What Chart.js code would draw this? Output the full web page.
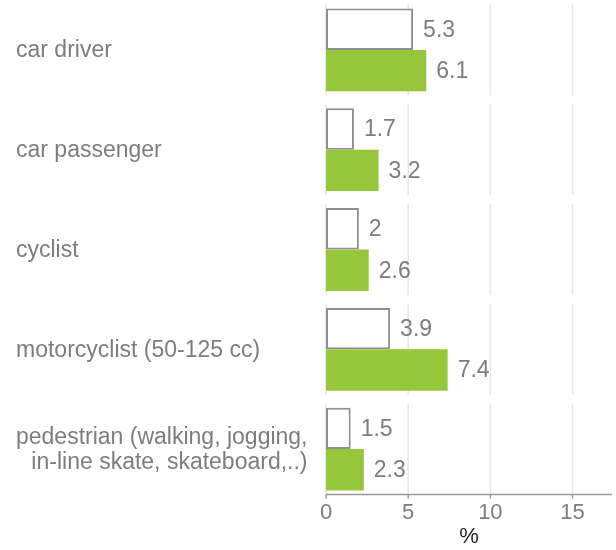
<!DOCTYPE html>
<html>
<head>
<meta charset="utf-8">
<script src="https://cdn.jsdelivr.net/npm/chart.js@4/dist/chart.umd.min.js"></script>
<style>
  html, body { margin: 0; padding: 0; background: #fff; }
  #wrap { width: 616px; height: 550px; }
</style>
</head>
<body>
<div id="wrap"><canvas id="chart"></canvas></div>
<script>
// data
const categories = [
  'car driver',
  'car passenger',
  'cyclist',
  'motorcyclist (50-125 cc)',
  ['pedestrian (walking, jogging,', 'in-line skate, skateboard,..)']
];
const whiteValues = [5.3, 1.7, 2, 3.9, 1.5];
const greenValues = [6.1, 3.2, 2.6, 7.4, 2.3];
const xTicks = [0, 5, 10, 15];

const textGray = '#7d7d7d';
const font = 'Liberation Sans, Arial, sans-serif';
const panelShare = 0.455; // half height of each grey grid panel, in category widths

// grid drawn per category panel, with gaps between them, plus the bottom axis line
const panelGrid = {
  id: 'panelGrid',
  beforeDatasetsDraw(chart) {
    const { ctx, chartArea, scales: { x, y } } = chart;
    const step = y.getPixelForValue(1) - y.getPixelForValue(0);
    ctx.save();
    ctx.strokeStyle = '#e6e6e6';
    ctx.lineWidth = 1.5;
    categories.forEach((c, i) => {
      const cy = y.getPixelForValue(i);
      xTicks.forEach(t => {
        const px = x.getPixelForValue(t);
        ctx.beginPath();
        ctx.moveTo(px, cy - step * panelShare);
        ctx.lineTo(px, cy + step * panelShare);
        ctx.stroke();
      });
    });
    // axis line
    const ay = y.getPixelForValue(categories.length - 1) + step * panelShare;
    ctx.strokeStyle = '#9a9a9a';
    ctx.lineWidth = 1.5;
    ctx.beginPath();
    ctx.moveTo(x.getPixelForValue(0), ay);
    ctx.lineTo(chartArea.right, ay);
    ctx.stroke();
    xTicks.forEach(t => {
      const px = x.getPixelForValue(t);
      ctx.beginPath();
      ctx.moveTo(px, ay);
      ctx.lineTo(px, ay + 4);
      ctx.stroke();
    });
    ctx.restore();
  }
};

// value labels at the bar ends + category labels (left block, lines right aligned)
const textLabels = {
  id: 'textLabels',
  afterDatasetsDraw(chart) {
    const { ctx, scales: { y } } = chart;
    ctx.save();
    ctx.font = '23px ' + font;
    ctx.fillStyle = textGray;
    ctx.textAlign = 'left';
    ctx.textBaseline = 'middle';
    chart.data.datasets.forEach((ds, di) => {
      chart.getDatasetMeta(di).data.forEach((bar, i) => {
        ctx.fillText(String(ds.data[i]), bar.x + 10, bar.y + 1);
      });
    });

    const lh = 25;
    ctx.textAlign = 'right';
    categories.forEach((lab, i) => {
      const lines = Array.isArray(lab) ? lab : [lab];
      const w = Math.max(...lines.map(l => ctx.measureText(l).width));
      const right = 16 + w;
      const cy = y.getPixelForValue(i) + 1;
      lines.forEach((l, k) => {
        ctx.fillText(l, right, cy + (k - (lines.length - 1) / 2) * lh);
      });
    });
    ctx.restore();
  }
};

new Chart(document.getElementById('chart'), {
  type: 'bar',
  data: {
    labels: categories,
    datasets: [
      {
        data: whiteValues,
        backgroundColor: '#ffffff',
        borderColor: '#8f8f8f',
        borderWidth: 2,
        borderSkipped: false
      },
      {
        data: greenValues,
        backgroundColor: '#96c63a',
        borderWidth: 0
      }
    ]
  },
  options: {
    indexAxis: 'y',
    responsive: true,
    maintainAspectRatio: false,
    animation: false,
    events: [],
    layout: { padding: { top: 0, right: 4, bottom: 0, left: 0 } },
    categoryPercentage: 0.83,
    barPercentage: 1,
    plugins: {
      legend: { display: false },
      tooltip: { enabled: false }
    },
    scales: {
      x: {
        min: 0,
        max: 17.4,
        afterBuildTicks(scale) {
          scale.ticks = xTicks.map(v => ({ value: v }));
        },
        afterFit(scale) {
          scale.height = 51;
          scale.paddingLeft = 0;
          scale.paddingRight = 0;
        },
        grid: { display: false },
        border: { display: false },
        ticks: {
          color: textGray,
          padding: -7,
          maxRotation: 0,
          font: { family: font, size: 22 }
        },
        title: {
          display: true,
          text: '%',
          color: '#222',
          padding: { top: 0, bottom: 0 },
          font: { family: font, size: 22 }
        }
      },
      y: {
        grid: { display: false },
        border: { display: false },
        afterFit(scale) {
          scale.width = 326;
          scale.paddingTop = 0;
          scale.paddingBottom = 0;
        },
        ticks: { display: false }
      }
    }
  },
  plugins: [panelGrid, textLabels]
});
</script>
</body>
</html>
